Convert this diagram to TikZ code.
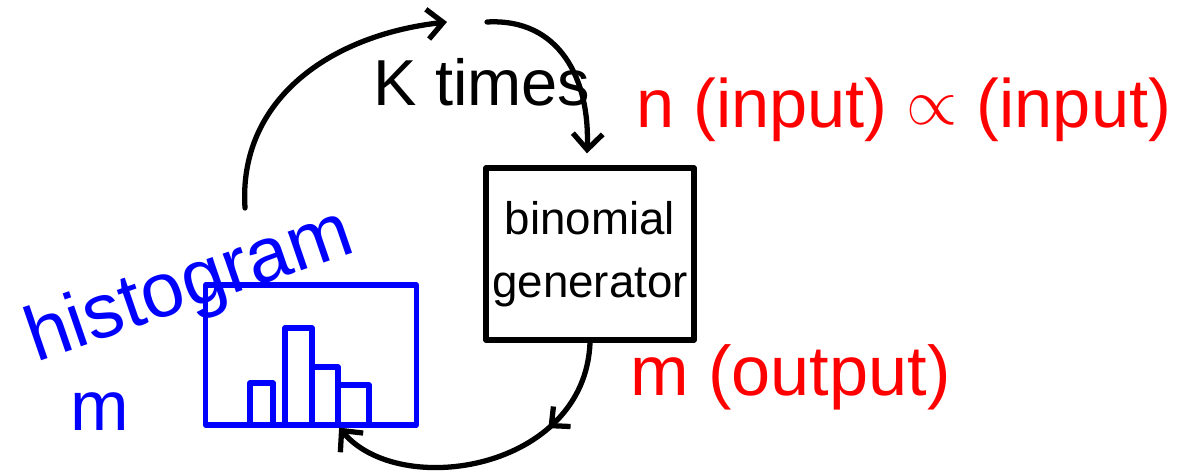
\documentclass[tikz,border=0pt]{standalone}
\usepackage{fontspec}
\setmainfont{Liberation Sans}
\usetikzlibrary{arrows.meta,calc,decorations.markings}
\tikzset{
  ink/.style={line width=3pt, line cap=round, line join=round},
  blk/.style={ink, draw=black},
  blu/.style={ink, draw=blue},
  vtip/.tip={Straight Barb[length=9pt,width=17pt,line width=3pt]},
  midarrow/.style={postaction={decorate},decoration={markings,
      mark=at position #1 with {\arrow{Straight Barb[length=8pt,width=15pt,line width=3pt]}}}},
  fs/.style={font=\fontsize{#1}{#1}\selectfont, inner sep=0pt},
}
\begin{document}
\begin{tikzpicture}[x=0.02cm,y=-0.02cm]
\useasboundingbox (0,0) rectangle (1196,475);

% binomial generator box
\node[blk, draw, minimum width=4.16cm, minimum height=3.44cm, align=center,
      font=\fontsize{26}{36}\selectfont, inner sep=0pt] (gen) at (590,254) {binomial\\generator};

% K times
\node[fs=37, anchor=base] (ktimes) at (482,106) {K times};
\coordinate (k1) at (447,22);
\coordinate (k2) at (487,22);

% histogram box
\node[blu, draw, minimum width=4.22cm, minimum height=2.8cm] (histbox) at (311,355) {};
\draw[blu] (250,425) |- (273,383) -- (273,425);
\draw[blu] (285,425) |- (312,328) -- (312,425);
\draw[blu] (312,367) -| (338,425);
\draw[blu] (338,385) -| (369,425);

% histogram label
\node[fs=44, text=blue, rotate=19] (histlbl) at (190,288) {histogram};
\node[fs=40, text=blue] (mblue) at (100,412) {m};
\coordinate (c1) at (245,208);

% red labels
\node[fs=39, text=red, anchor=base west] (inlbl) at (636,128)
  {n (input) \raisebox{0.05em}{\scalebox{1.5}{$\propto$}} (input)};
\node[fs=40, text=red, anchor=base west] (outlbl) at (630,396) {m (output)};

% connectors
\draw[blk, -vtip] (c1) .. controls (238,100) and (330,35) .. (k1);
\draw[blk, -vtip] (k2) .. controls (560,18) and (590,80) .. ($(gen.north)+(-3,-12)$);
\draw[blk, -vtip, midarrow=0.3] (gen.south) .. controls (585,470) and (400,500) ..
   ($(histbox.south west)!0.63!(histbox.south east)$);
\end{tikzpicture}
\end{document}
